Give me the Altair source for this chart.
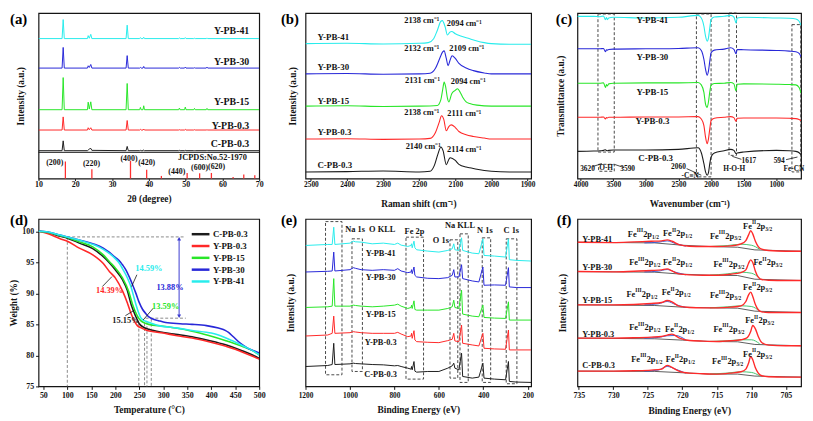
import altair as alt
import pandas as pd

FONT = "Liberation Serif"
INK = "#141414"
SERIES = ["C-PB-0.3", "Y-PB-0.3", "Y-PB-15", "Y-PB-30", "Y-PB-41"]
COLORS = ["#1c1c1c", "#ff2828", "#28e628", "#2828d8", "#28ecec"]

# ---------------- (a) XRD ----------------
a_2theta = [10, 16.4, 16.7, 17.0, 23.3, 23.5, 23.8, 24.2, 24.5, 33.8, 34.1, 34.4, 37.5, 37.7, 37.9,
            38.4, 38.6, 38.8, 48.1, 48.3, 48.5, 49.7, 49.9, 50.1, 52.2, 52.4, 52.6, 55.6, 55.8, 56.0, 70]
a_black = [85, 85, 115, 85, 85, 87, 90, 92, 86, 85, 98, 85, 85, 86, 85, 85, 87, 85, 85, 86, 85, 85, 86, 85, 85, 85, 85, 85, 86, 85, 85]
a_red = [148, 148, 188, 148, 148, 155, 149, 155, 148, 148, 177, 148, 148, 150, 148, 148, 151, 148, 148, 149, 148, 148, 150, 148, 148, 149, 148, 148, 149, 148, 148]
a_green = [210, 210, 308, 210, 210, 233, 212, 234, 210, 210, 290, 210, 210, 217, 210, 210, 222, 210, 210, 215, 210, 210, 218, 210, 210, 214, 210, 210, 214, 210, 210]
a_blue = [337, 337, 400, 337, 337, 344, 339, 348, 337, 337, 375, 337, 337, 339, 337, 337, 342, 337, 337, 339, 337, 337, 340, 337, 337, 338, 337, 337, 340, 337, 337]
a_cyan = [427, 427, 485, 427, 427, 436, 428, 440, 427, 427, 468, 427, 427, 430, 427, 427, 431, 427, 427, 429, 427, 427, 430, 427, 427, 428, 427, 427, 429, 427, 427]
jcpds_2theta = [17.3, 24.5, 35.0, 39.4, 43.4, 50.4, 53.8, 57.0, 62.9, 65.8, 68.8]
jcpds_int = [52, 28, 54, 27, 8, 17, 16, 17, 5, 12, 10]
a_sep = [80]
a_lab_y = [105, 160, 233, 355, 450]
hkl_text = ["(200)", "(220)", "(400)", "(420)", "(440)", "(600)", "(620)"]
hkl_x = [14.4, 24.4, 34.6, 39.4, 47.6, 53.8, 58.4]
hkl_y = [47, 45, 60, 46, 19, 33, 35]

# ---------------- (b) Raman ----------------
b_black_x = [2515, 2400, 2300, 2200, 2170, 2158, 2148, 2140, 2134, 2125, 2118, 2114, 2100, 2090, 2070, 2060, 2040, 2000, 1950, 1890]
b_black_y = [20, 21, 23, 20, 22, 40, 75, 96, 85, 42, 58, 63, 55, 43, 35, 33, 28, 22, 20, 20]
b_red_x = [2515, 2400, 2300, 2200, 2170, 2155, 2145, 2138, 2132, 2125, 2118, 2111, 2100, 2090, 2070, 2050, 2020, 2000, 1950, 1890]
b_red_y = [120, 121, 119, 120, 122, 140, 170, 191, 180, 145, 158, 163, 155, 143, 133, 128, 123, 120, 120, 120]
b_green_x = [2515, 2400, 2300, 2200, 2150, 2140, 2135, 2131, 2127, 2122, 2118, 2110, 2100, 2094, 2088, 2080, 2070, 2060, 2040, 2000, 1950, 1890]
b_green_y = [220, 221, 219, 220, 222, 240, 270, 293, 280, 245, 233, 258, 268, 273, 265, 248, 233, 228, 223, 220, 220, 220]
b_blue_x = [2515, 2400, 2300, 2200, 2170, 2155, 2145, 2135, 2131, 2125, 2120, 2115, 2109, 2100, 2090, 2070, 2050, 2020, 2000, 1950, 1890]
b_blue_y = [318, 319, 317, 318, 320, 335, 360, 385, 388, 365, 343, 358, 373, 365, 350, 336, 328, 321, 318, 318, 318]
b_cyan_x = [2515, 2400, 2300, 2200, 2175, 2160, 2150, 2140, 2136, 2128, 2122, 2115, 2110, 2100, 2085, 2060, 2040, 2020, 2000, 1950, 1890]
b_cyan_y = [410, 411, 409, 411, 413, 425, 450, 478, 480, 460, 436, 445, 447, 440, 433, 425, 418, 413, 410, 408, 408]
b_lab_y = [41, 141, 236, 340, 430]
b_peak_text = ["2138 cm⁻¹", "2094 cm⁻¹", "2132 cm⁻¹", "2109 cm⁻¹", "2131 cm⁻¹",
               "2094 cm⁻¹", "2138 cm⁻¹", "2111 cm⁻¹", "2140 cm⁻¹", "2114 cm⁻¹"]
b_peak_x = [2193, 2075, 2193, 2068, 2191, 2064, 2193, 2075, 2189, 2075]
b_peak_y = [483, 473, 396, 396, 300, 296, 203, 198, 100, 91]

# ---------------- (c) FTIR ----------------
c_wn = [4050, 3800, 3700, 3650, 3620, 3605, 3590, 3570, 3500, 3000, 2500, 2200, 2150, 2110, 2085, 2060,
        2040, 2020, 2000, 1950, 1800, 1700, 1650, 1617, 1600, 1500, 1000, 800, 700, 650, 620]
c_black = [82, 83, 84, 85, 87, 85, 84, 85, 86, 86, 88, 93, 78, 45, 20, 10, 18, 45, 65, 77, 84, 88, 85, 75, 77, 80, 85, 84, 82, 78, 72]
c_red = [185, 185, 185, 186, 180, 184, 183, 185, 185, 186, 186, 187, 180, 160, 125, 105, 120, 150, 175, 182, 185, 187, 184, 173, 182, 183, 183, 182, 181, 178, 175]
c_green = [288, 288, 288, 289, 275, 284, 280, 286, 288, 289, 289, 290, 283, 260, 225, 215, 232, 262, 282, 287, 288, 290, 286, 265, 285, 286, 285, 284, 283, 275, 258]
c_blue = [392, 392, 392, 393, 383, 389, 388, 390, 391, 392, 393, 395, 387, 360, 330, 312, 325, 355, 380, 388, 391, 395, 390, 377, 390, 389, 387, 385, 383, 378, 368]
c_cyan = [490, 490, 489, 491, 480, 486, 480, 485, 487, 485, 487, 493, 485, 460, 430, 415, 425, 455, 480, 488, 490, 493, 488, 470, 485, 487, 485, 484, 482, 475, 463]
c_box_x = [3735, 3725, 2225, 1725, 760]
c_box_x2 = [3485, 3485, 2000, 1610, 625]
c_box_y = [497, 43, 497, 500, 465]
c_box_y2 = [80, 22, 5, 70, 20]
c_note_text = ["3620", "O-H", "3590", "2060", "-C≡N", "H-O-H", "1617", "594", "Fe-CN"]
c_note_x = [3895, 3610, 3280, 2500, 2320, 1645, 1420, 955, 730]
c_note_y = [30, 33, 30, 36, 9, 30, 54, 54, 30]
c_arrow_x = [3675, 3485, 2375, 1675, 850]
c_arrow_x2 = [3820, 3335, 2150, 1535, 675]
c_arrow_y = [45, 43, 30, 67, 57]
c_arrow_y2 = [36, 33, 10, 58, 65]
c_lab_x = [2850, 2900, 2900, 2900, 2900]
c_lab_y = [63, 175, 262, 367, 480]

# ---------------- (d) TGA ----------------
d_T_black = [40, 60, 85, 100, 125, 153, 175, 188, 200, 215, 225, 233, 242, 250, 260, 270, 300, 326, 360, 395, 430, 463, 485, 500]
d_W_black = [100, 99.8, 99.2, 98.9, 98.1, 97.2, 95.9, 94.9, 93.8, 92.2, 90.5, 88.2, 86.4, 85.1, 84.5, 84.2, 83.7, 83.4, 83.0, 82.4, 81.7, 80.8, 80.1, 79.5]
d_T_red = [40, 60, 85, 100, 125, 153, 175, 188, 200, 215, 225, 233, 240, 246, 255, 264, 300, 326, 360, 395, 429, 450, 463, 485, 500]
d_W_red = [100, 99.6, 98.8, 98.4, 97.3, 96.2, 94.8, 93.5, 92.5, 90.4, 88.5, 86.7, 85.5, 84.8, 84.4, 84.1, 83.6, 83.2, 82.8, 82.2, 81.5, 81.0, 80.6, 79.9, 79.4]
d_T_green = [40, 60, 85, 100, 125, 153, 175, 188, 200, 215, 228, 236, 245, 253, 262, 270, 300, 326, 360, 395, 429, 463, 485, 500]
d_W_green = [100, 99.8, 99.3, 99.0, 98.3, 97.5, 96.2, 95.1, 94.1, 92.5, 90.3, 88.2, 86.5, 85.6, 85.2, 85.0, 84.7, 84.4, 83.9, 83.2, 82.4, 81.5, 80.8, 80.1]
d_T_blue = [40, 60, 85, 100, 125, 153, 175, 188, 200, 208, 215, 222, 230, 236, 243, 250, 257, 264, 270, 277, 290, 305, 335, 360, 390, 415, 430, 436, 446, 457, 467, 477, 490, 500]
d_W_blue = [100, 99.9, 99.4, 99.1, 98.6, 98.0, 97.3, 96.6, 95.8, 95.3, 94.6, 93.8, 92.5, 91.4, 90.0, 88.5, 87.4, 86.7, 86.2, 85.9, 85.6, 85.3, 85.1, 85.0, 84.8, 84.4, 84.0, 83.7, 83.0, 82.2, 81.6, 81.1, 80.7, 80.4]
d_T_cyan = [40, 60, 85, 100, 125, 153, 175, 188, 200, 208, 215, 222, 228, 233, 238, 243, 248, 253, 258, 264, 275, 291, 330, 360, 400, 415, 443, 470, 490, 500]
d_W_cyan = [100, 99.9, 99.4, 99.1, 98.6, 97.9, 97.1, 96.4, 95.6, 94.9, 94.0, 93.0, 92.0, 91.0, 89.6, 88.2, 87.0, 86.1, 85.7, 85.5, 85.2, 84.8, 84.4, 84.0, 83.6, 83.3, 82.4, 81.4, 80.6, 80.1]
d_pct_text = ["14.59%", "13.88%", "14.39%", "13.59%", "15.15%"]
d_pct_series = ["Y-PB-41", "Y-PB-30", "Y-PB-0.3", "Y-PB-15", "C-PB-0.3"]
d_pct_T = [270, 314, 188, 305, 222]
d_pct_W = [94.1, 91.0, 90.5, 87.9, 85.7]
d_guide_T = [100, 100, 249, 261, 266, 275, 263]
d_guide_T2 = [345, 100, 249, 261, 266, 275, 347]
d_guide_W = [99.1, 99.1, 85.1, 85.2, 85.5, 85.9, 86.0]
d_guide_W2 = [99.1, 75, 75, 75, 75, 75, 86.0]
d_arrow_T = [333]
d_arrow_W = [98.8]
d_arrow_W2 = [86.3]
d_ptr_T = [173, 234, 221, 279]
d_ptr_T2 = [193, 245, 240, 258]
d_ptr_W = [91.1, 91.1, 86.4, 87.6]
d_ptr_W2 = [92.7, 93.0, 87.3, 85.7]

# ---------------- (e) XPS survey ----------------
e_be = [1200, 1100, 1080, 1073, 1068, 1000, 985, 975, 950, 900, 850, 800, 785, 770, 740, 725, 723, 720, 712, 708,
        700, 650, 600, 560, 540, 533, 528, 510, 498, 493, 450, 420, 402, 397, 350, 300, 287, 283, 250, 185]
e_black = [60, 63, 66, 130, 66, 68, 70, 69, 68, 66, 65, 62, 63, 60, 55, 52, 60, 50, 75, 46,
           43, 45, 45, 55, 62, 70, 55, 50, 100, 30, 25, 28, 70, 25, 22, 20, 75, 15, 13, 12]
e_red = [152, 155, 160, 212, 160, 162, 165, 164, 162, 160, 160, 160, 163, 158, 150, 152, 160, 145, 168, 140,
         135, 133, 132, 138, 142, 160, 137, 135, 185, 130, 125, 122, 160, 115, 113, 112, 170, 110, 110, 110]
e_green = [238, 240, 242, 325, 242, 242, 245, 244, 242, 240, 242, 245, 248, 242, 235, 238, 245, 235, 258, 232,
           230, 230, 230, 235, 240, 260, 238, 235, 290, 218, 212, 210, 245, 208, 206, 205, 255, 200, 200, 200]
e_blue = [345, 347, 348, 405, 348, 352, 358, 356, 352, 350, 352, 350, 355, 348, 343, 345, 352, 340, 360, 335,
          330, 326, 325, 328, 335, 352, 330, 330, 367, 325, 318, 315, 360, 305, 306, 305, 358, 300, 298, 298]
e_cyan = [425, 428, 428, 480, 428, 432, 438, 436, 435, 430, 432, 428, 432, 426, 422, 425, 430, 418, 438, 418,
          412, 408, 405, 410, 415, 430, 412, 410, 448, 410, 402, 400, 445, 395, 393, 390, 445, 382, 380, 378]
e_box_x = [1110, 991, 748, 550, 505, 405, 297]
e_box_x2 = [1036, 944, 669, 515, 468, 367, 249]
e_box_y = [497, 445, 450, 442, 460, 448, 445]
e_box_y2 = [35, 45, 22, 25, 12, 12, 8]
e_note_text = ["Na 1s", "O KLL", "Fe 2p", "O 1s", "Na KLL", "N 1s", "C 1s"]
e_note_x = [977, 855, 710, 591, 505, 393, 274]
e_note_y = [473, 473, 468, 442, 487, 470, 470]
e_lab_y = [38, 135, 218, 330, 402]

# ---------------- (f) Fe 2p XPS ----------------
f_be = [735.2, 730, 727, 724.5, 723, 722.2, 721.5, 720.5, 719, 717, 715, 713, 711.5, 710.8, 710.4, 710.1, 709.8, 709.4, 709, 708.5, 707.5, 705, 702.8]
f_env_C = [46, 46, 47, 49, 52, 63, 57, 46, 40, 38, 37, 40, 44, 52, 70, 90, 80, 55, 40, 32, 29, 28, 28]
f_env_R = [145, 145, 146, 148, 150, 154, 157, 146, 138, 136, 135, 137, 140, 144, 152, 165, 183, 172, 150, 132, 124, 122, 122]
f_env_G = [245, 245, 246, 249, 252, 258, 254, 241, 237, 236, 236, 238, 242, 255, 275, 283, 270, 245, 230, 224, 222, 222, 222]
f_env_B = [345, 344, 346, 348, 350, 353, 347, 338, 335, 334, 334, 337, 342, 350, 370, 380, 372, 345, 328, 321, 319, 318, 318]
f_env_Y = [433, 432, 434, 436, 437, 440, 436, 426, 421, 420, 420, 422, 428, 438, 455, 468, 458, 435, 420, 412, 408, 406, 406]
f_base_be = [735.2, 724, 720, 716, 712, 709.5, 702.8]
f_base_C = [46, 45, 41, 37, 37, 31, 28]
f_base_R = [145, 143, 139, 135, 134, 126, 122]
f_base_G = [245, 243, 238, 236, 235, 226, 222]
f_base_B = [345, 343, 337, 334, 333, 322, 318]
f_base_Y = [433, 431, 424, 420, 418, 410, 406]
f_p12_be = [725.5, 723.5, 722.2, 721, 719.5]
f_p12_C = [46, 49, 60, 52, 40]
f_p12_R = [145, 147, 152, 153, 140]
f_p12_G = [245, 248, 255, 246, 237]
f_p12_B = [344, 346, 351, 343, 335]
f_p12_Y = [431, 433, 437, 429, 421]
f_fe3_be = [716, 713.5, 711.5, 710, 708.8]
f_fe3_C = [37, 40, 44, 42, 32]
f_fe3_R = [135, 137, 140, 140, 128]
f_fe3_G = [236, 239, 242, 240, 226]
f_fe3_B = [334, 338, 343, 340, 325]
f_fe3_Y = [420, 423, 427, 424, 412]
f_lab_y = [63, 158, 258, 358, 443]
f_fe_x = [727.9, 722.8, 716.0, 711.2, 727.7, 722.8, 715.5, 709.7, 728.1, 723.0, 716.0, 711.2,
          727.7, 722.5, 715.5, 710.9, 727.4, 722.4, 715.7, 711.2]
f_fe_y = [458, 460, 453, 483, 373, 373, 368, 373, 278, 283, 273, 298, 178, 173, 173, 198, 83, 81, 76, 98]
f_fe_ox = ["III", "II", "III", "II"] * 5
f_fe_sub = ["1/2", "1/2", "3/2", "3/2"] * 5


# ---------------- helpers ----------------
def lines_df(xl, yl, names):
    rows = []
    for xs, ys, n in zip(xl, yl, names):
        assert len(xs) == len(ys), n
        rows += [{"x": a, "y": b, "series": n} for a, b in zip(xs, ys)]
    return pd.DataFrame(rows)


def x_axis(values, title, fs, ty, tick, pad):
    return alt.Axis(values=values, title=title, format="d", grid=False, domain=False,
                    tickSize=tick, tickColor=INK, tickWidth=1,
                    labelFont=FONT, labelFontSize=fs, labelFontWeight="bold", labelColor=INK,
                    labelPadding=pad, labelFlush=False, labelOverlap=False, labelBound=False,
                    titleFont=FONT, titleFontSize=9.5, titleFontWeight="bold", titleColor=INK,
                    titleY=ty, titleBaseline="middle")


def y_blank(title, tx):
    return alt.Axis(labels=False, ticks=False, domain=False, grid=False, title=title,
                    titleFont=FONT, titleFontSize=9.5, titleFontWeight="bold", titleColor=INK,
                    titleX=tx, titleBaseline="middle")


def enc_x(dom, rev, axis):
    return alt.X("x:Q", scale=alt.Scale(domain=dom, reverse=rev, nice=False, zero=False), axis=axis)


def enc_y(dom, axis):
    return alt.Y("y:Q", scale=alt.Scale(domain=dom, nice=False, zero=False), axis=axis)


def color_enc(legend=None):
    return alt.Color("series:N", scale=alt.Scale(domain=SERIES, range=COLORS), legend=legend)


def texts(df, X, Y, size=9, align="center", color=INK, dx=0, dy=0):
    return alt.Chart(df).mark_text(font=FONT, fontSize=size, fontWeight="bold", color=color,
                                   align=align, baseline="middle", dx=dx, dy=dy).encode(x=X, y=Y, text="t:N")


def panel_label(txt, dx, dy):
    return alt.Chart(pd.DataFrame({"t": [txt]})).mark_text(
        font=FONT, fontSize=15, fontWeight="bold", align="left", baseline="top", color="#000"
    ).encode(text="t:N", x=alt.value(dx), y=alt.value(dy))


def dashed_boxes(xs, x2s, ys, y2s, X, Y):
    df = pd.DataFrame({"x": xs, "x2": x2s, "y": ys, "y2": y2s})
    return alt.Chart(df).mark_rect(fillOpacity=0, stroke="#333", strokeWidth=0.9, strokeDash=[3, 2]).encode(
        x=X, x2="x2:Q", y=Y, y2="y2:Q")


def segments(xs, x2s, ys, y2s, X, Y, color=INK, width=0.8):
    df = pd.DataFrame({"x": xs, "x2": x2s, "y": ys, "y2": y2s})
    return alt.Chart(df).mark_rule(color=color, strokeWidth=width).encode(x=X, x2="x2:Q", y=Y, y2="y2:Q")


TOP_H, BOT_H = 168, 170
W1, W2, W3 = 224, 229, 227

# ---------------- panel a ----------------
XA = enc_x([10, 70], False, x_axis(list(range(10, 71, 10)), "2θ (degree)", 8, 20, 2, 0))
YA = enc_y([0, 505], y_blank("Intensity (a.u.)", -18))
a_lines = lines_df([a_2theta] * 5, [a_black, a_red, a_green, a_blue, a_cyan], SERIES)
pa = alt.layer(
    alt.Chart(pd.DataFrame({"y": a_sep})).mark_rule(color=INK, strokeWidth=1).encode(y=YA),
    alt.Chart(pd.DataFrame({"x": jcpds_2theta, "y": [0] * len(jcpds_2theta), "y2": jcpds_int}))
    .mark_rule(color="#ff3030", strokeWidth=1.3).encode(x=XA, y=YA, y2="y2:Q"),
    alt.Chart(a_lines).mark_line(strokeWidth=1, clip=True).encode(x=XA, y=YA, color=color_enc()),
    texts(pd.DataFrame({"x": [67.3] * 5, "y": a_lab_y, "t": SERIES}), XA, YA, size=10, align="right"),
    texts(pd.DataFrame({"x": hkl_x, "y": hkl_y, "t": hkl_text}), XA, YA, size=8),
    texts(pd.DataFrame({"x": [57.3], "y": [67], "t": ["JCPDS:No.52-1970"]}), XA, YA, size=8.5),
    panel_label("(a)", -29, -1),
).properties(width=W1, height=TOP_H)

# ---------------- panel b ----------------
XB = enc_x([1890, 2515], True, x_axis(list(range(1900, 2501, 100)), "Raman shift (cm⁻¹)", 7.5, 25, 2, 0))
YB = enc_y([0, 503], y_blank("Intensity (a.u.)", -13))
b_lines = lines_df([b_black_x, b_red_x, b_green_x, b_blue_x, b_cyan_x],
                   [b_black_y, b_red_y, b_green_y, b_blue_y, b_cyan_y], SERIES)
pb = alt.layer(
    alt.Chart(b_lines).mark_line(strokeWidth=1.1, clip=True, interpolate="monotone").encode(x=XB, y=YB, color=color_enc()),
    texts(pd.DataFrame({"x": [2482] * 5, "y": b_lab_y, "t": SERIES}), XB, YB, size=9, align="left"),
    texts(pd.DataFrame({"x": b_peak_x, "y": b_peak_y, "t": b_peak_text}), XB, YB, size=8.5),
    panel_label("(b)", -25, -1),
).properties(width=W2, height=TOP_H)

# ---------------- panel c ----------------
XC = enc_x([620, 4050], True, x_axis(list(range(1000, 4001, 500)), "Wavenumber (cm⁻¹)", 7.5, 25, 2, 0))
YC = enc_y([0, 500], y_blank("Transmittance (a.u.)", -17))
c_lines = lines_df([c_wn] * 5, [c_black, c_red, c_green, c_blue, c_cyan], SERIES)
pc = alt.layer(
    dashed_boxes(c_box_x, c_box_x2, c_box_y, c_box_y2, XC, YC),
    alt.Chart(c_lines).mark_line(strokeWidth=1.1, clip=True, interpolate="monotone").encode(x=XC, y=YC, color=color_enc()),
    segments(c_arrow_x, c_arrow_x2, c_arrow_y, c_arrow_y2, XC, YC),
    texts(pd.DataFrame({"x": c_lab_x, "y": c_lab_y, "t": SERIES}), XC, YC, size=9),
    texts(pd.DataFrame({"x": c_note_x, "y": c_note_y, "t": c_note_text}), XC, YC, size=7.5),
    panel_label("(c)", -22, -1),
).properties(width=W3, height=TOP_H)

# ---------------- panel d ----------------
XD = enc_x([40, 500], False, x_axis(list(range(50, 501, 50)), "Temperature (°C)", 8, 24, 3, 2.5))
YD = alt.Y("y:Q", scale=alt.Scale(domain=[75, 102], nice=False, zero=False),
           axis=alt.Axis(values=[75, 80, 85, 90, 95, 100], title="Weight (%)", format="d", grid=False, domain=False,
                         tickSize=3, tickColor=INK, labelFont=FONT, labelFontSize=8, labelFontWeight="bold",
                         labelColor=INK, labelPadding=2, labelFlush=False, labelOverlap=False,
                         titleFont=FONT, titleFontSize=9.5, titleFontWeight="bold", titleColor=INK,
                         titleX=-25, titleBaseline="middle"))
d_lines = lines_df([d_T_black, d_T_red, d_T_green, d_T_blue, d_T_cyan],
                   [d_W_black, d_W_red, d_W_green, d_W_blue, d_W_cyan], SERIES)
d_legend = alt.Legend(title=None, orient="none", legendX=158, legendY=9, symbolType="M-1.8,0H1.8",
                      symbolSize=100, symbolStrokeWidth=2.5, labelFont=FONT, labelFontSize=9,
                      labelFontWeight="bold", labelColor=INK, labelOffset=6, rowPadding=0, padding=0)
pdd = alt.layer(
    alt.Chart(pd.DataFrame({"x": d_guide_T, "x2": d_guide_T2, "y": d_guide_W, "y2": d_guide_W2}))
    .mark_rule(color="#8a8a8a", strokeWidth=1, strokeDash=[3, 2]).encode(x=XD, x2="x2:Q", y=YD, y2="y2:Q"),
    alt.Chart(pd.DataFrame({"x": d_arrow_T, "y": d_arrow_W, "y2": d_arrow_W2}))
    .mark_rule(color="#3a3ad0", strokeWidth=1).encode(x=XD, y=YD, y2="y2:Q"),
    alt.Chart(pd.DataFrame({"x": d_arrow_T, "y": d_arrow_W}))
    .mark_point(shape="triangle-up", filled=True, size=16, color="#3a3ad0", opacity=1).encode(x=XD, y=YD),
    alt.Chart(pd.DataFrame({"x": d_arrow_T, "y": d_arrow_W2}))
    .mark_point(shape="triangle-down", filled=True, size=16, color="#3a3ad0", opacity=1).encode(x=XD, y=YD),
    alt.Chart(d_lines).mark_line(strokeWidth=1.6, clip=True, interpolate="monotone").encode(x=XD, y=YD, color=color_enc(d_legend)),
    segments(d_ptr_T, d_ptr_T2, d_ptr_W, d_ptr_W2, XD, YD),
    alt.Chart(pd.DataFrame({"x": d_pct_T, "y": d_pct_W, "t": d_pct_text, "series": d_pct_series}))
    .mark_text(font=FONT, fontSize=8.5, fontWeight="bold", baseline="middle")
    .encode(x=XD, y=YD, text="t:N", color=color_enc()),
    panel_label("(d)", -29, -6),
).properties(width=W1, height=BOT_H)

# ---------------- panel e ----------------
XE = enc_x([185, 1200], True, x_axis([200, 400, 600, 800, 1000, 1200], "Binding Energy (eV)", 7.5, 24, 3, 2.5))
YE = enc_y([0, 505], y_blank("Intensity (a.u.)", -15))
e_lines = lines_df([e_be] * 5, [e_black, e_red, e_green, e_blue, e_cyan], SERIES)
pe = alt.layer(
    dashed_boxes(e_box_x, e_box_x2, e_box_y, e_box_y2, XE, YE),
    alt.Chart(e_lines).mark_line(strokeWidth=1, clip=True).encode(x=XE, y=YE, color=color_enc()),
    texts(pd.DataFrame({"x": [862] * 5, "y": e_lab_y, "t": SERIES}), XE, YE, size=8.5),
    texts(pd.DataFrame({"x": e_note_x, "y": e_note_y, "t": e_note_text}), XE, YE, size=8.5),
    panel_label("(e)", -25, -6),
).properties(width=W2, height=BOT_H)

# ---------------- panel f ----------------
XF = enc_x([702.8, 735.2], True, x_axis([705, 710, 715, 720, 725, 730, 735], "Binding Energy (eV)", 8, 25, 3, 2.5))
YF = enc_y([0, 503], y_blank("Intensity (a.u.)", -15))
f_env = lines_df([f_be] * 5, [f_env_C, f_env_R, f_env_G, f_env_B, f_env_Y], SERIES)
f_base = lines_df([f_base_be] * 5, [f_base_C, f_base_R, f_base_G, f_base_B, f_base_Y], SERIES)
f_p12 = lines_df([f_p12_be] * 5, [f_p12_C, f_p12_R, f_p12_G, f_p12_B, f_p12_Y], SERIES)
f_fe3 = lines_df([f_fe3_be] * 5, [f_fe3_C, f_fe3_R, f_fe3_G, f_fe3_B, f_fe3_Y], SERIES)
f_fe = pd.DataFrame({"x": f_fe_x, "y": f_fe_y, "ox": f_fe_ox, "sub": f_fe_sub})


def fe_piece(text_field, size, dx, dy, ox=None, const=None):
    ch = alt.Chart(f_fe)
    if ox is not None:
        ch = ch.transform_filter(alt.datum.ox == ox)
    txt = alt.value(const) if const is not None else alt.Text(f"{text_field}:N")
    return ch.mark_text(font=FONT, fontSize=size, fontWeight="bold", color=INK, align="left",
                        baseline="middle", dx=dx, dy=dy).encode(x=XF, y=YF, text=txt)


pf = alt.layer(
    alt.Chart(f_base).mark_line(strokeWidth=0.8, color="#333", clip=True).encode(x=XF, y=YF, detail="series:N"),
    alt.Chart(f_fe3).mark_line(strokeWidth=0.9, color="#30c060", clip=True, interpolate="monotone").encode(x=XF, y=YF, detail="series:N"),
    alt.Chart(f_p12).mark_line(strokeWidth=0.9, color="#3050d0", clip=True, interpolate="monotone").encode(x=XF, y=YF, detail="series:N"),
    alt.Chart(f_env).mark_line(strokeWidth=1.4, color="#ff2a2a", clip=True, interpolate="monotone").encode(x=XF, y=YF, detail="series:N"),
    texts(pd.DataFrame({"x": [734.5] * 5, "y": f_lab_y, "t": SERIES}), XF, YF, size=8.5, align="left"),
    fe_piece(None, 8.5, 0, 0, const="Fe"),
    fe_piece("ox", 5.5, 9, -3.5),
    fe_piece(None, 8.5, 15.6, 0, ox="III", const="2p"),
    fe_piece(None, 8.5, 13.5, 0, ox="II", const="2p"),
    fe_piece("sub", 5.5, 24.6, 3, ox="III"),
    fe_piece("sub", 5.5, 22.5, 3, ox="II"),
    panel_label("(f)", -21, -6),
).properties(width=W3, height=BOT_H)

chart = alt.concat(pa, pb, pc, pdd, pe, pf, columns=3, spacing={"row": 41, "column": 47}, bounds="flush").resolve_scale(
    x="independent", y="independent", color="independent").resolve_legend(color="independent").properties(
    padding=0, background="white").configure_view(stroke=INK, strokeWidth=1.2)

chart.save("out.html", embed_options={"renderer": "svg", "actions": False})
